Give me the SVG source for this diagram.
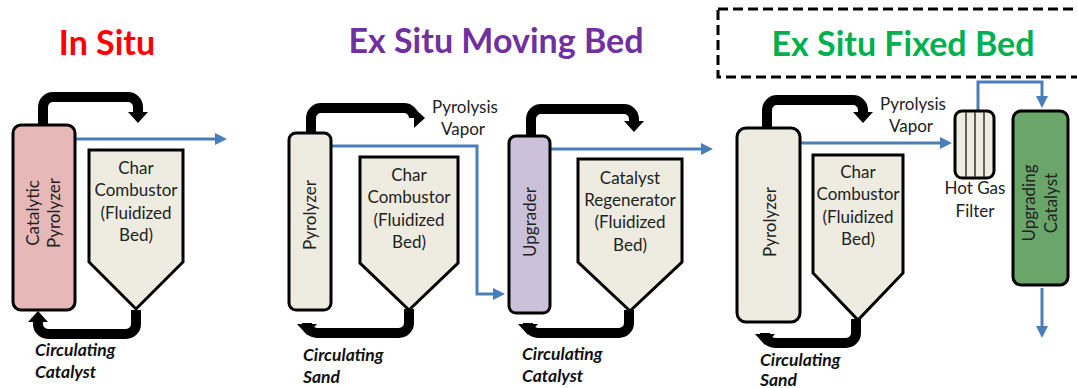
<svg xmlns="http://www.w3.org/2000/svg" width="1077" height="388" viewBox="0 0 1077 388">
  <style>
    .title { font-family: Lato, "Open Sans", sans-serif; font-weight: bold; font-size: 34px; text-anchor: middle; }
    .lbl { font-family: Lato, "Open Sans", sans-serif; font-size: 17px; fill: #222; text-anchor: middle; }
    .circ { font-family: Lato, "Open Sans", sans-serif; font-size: 17.5px; font-weight: bold; font-style: italic; fill: #111; }
    .vessel { stroke: #000; stroke-width: 3; }
    .plain { fill: #eeece1; }
    .solids { fill: none; stroke: #000; stroke-width: 10; }
    .vapor { fill: none; stroke: #4a7ebb; stroke-width: 3; }
    .slat { stroke: #333; stroke-width: 1.5; }
  </style>
  <defs>
    <marker id="headSolid" viewBox="0 0 11 20" refX="0" refY="10" markerWidth="11" markerHeight="20" markerUnits="userSpaceOnUse" orient="auto">
      <path d="M0,0 L11,10 L0,20 Z" fill="#000"/>
    </marker>
    <marker id="headVapor" viewBox="0 0 12 12" refX="0" refY="6" markerWidth="12" markerHeight="12" markerUnits="userSpaceOnUse" orient="auto">
      <path d="M0,0 L12,6 L0,12 Z" fill="#4a7ebb"/>
    </marker>
  </defs>

  <!-- section titles -->
  <text class="title" x="107" y="55" fill="#ff0000">In Situ</text>
  <text class="title" x="496" y="53" fill="#7030a0">Ex Situ Moving Bed</text>
  <rect x="718" y="9" width="380" height="68" fill="none" stroke="#000" stroke-width="3" stroke-dasharray="10 5"/>
  <text class="title" x="903" y="56" fill="#00b050">Ex Situ Fixed Bed</text>

  <!-- connectors -->
  <g id="connectors">
    <!-- in situ loop -->
    <path class="solids" d="M43,124 V107 A10,10 0 0 1 53,97 H128 A10,10 0 0 1 138,107 V112" marker-end="url(#headSolid)"/>
    <path class="solids" d="M136,310 V324 A10,10 0 0 1 126,334 H48 A10,10 0 0 1 38,324 V322" marker-end="url(#headSolid)"/>
    <path class="vapor" d="M75,139 H215" marker-end="url(#headVapor)"/>

    <!-- moving bed: pyrolyzer loop -->
    <path class="solids" d="M311,132 V118 A10,10 0 0 1 321,108 H404 A10,10 0 0 1 414,118 V118" marker-end="url(#headSolid)"/>
    <path class="solids" d="M409,309 V323 A10,10 0 0 1 399,333 H317 A10,10 0 0 1 307,323 V324" marker-end="url(#headSolid)"/>
    <path class="vapor" d="M331,146 H477 V294 H493" marker-end="url(#headVapor)"/>

    <!-- moving bed: upgrader loop -->
    <path class="solids" d="M531,135 V119 A10,10 0 0 1 541,109 H624 A10,10 0 0 1 634,119 V121" marker-end="url(#headSolid)"/>
    <path class="solids" d="M629,310 V323 A10,10 0 0 1 619,333 H538 A10,10 0 0 1 528,323 V324" marker-end="url(#headSolid)"/>
    <path class="vapor" d="M550,149 H701" marker-end="url(#headVapor)"/>

    <!-- fixed bed loop -->
    <path class="solids" d="M767,127 V110 A10,10 0 0 1 777,100 H853 A10,10 0 0 1 863,110 V112" marker-end="url(#headSolid)"/>
    <path class="solids" d="M856,319 V333 A10,10 0 0 1 846,343 H775 A10,10 0 0 1 765,333 V334" marker-end="url(#headSolid)"/>
    <path class="vapor" d="M800,143 H940" marker-end="url(#headVapor)"/>
    <path class="vapor" d="M978,111 V82 H1042 V96" marker-end="url(#headVapor)"/>
    <path class="vapor" d="M1042,288 V326" marker-end="url(#headVapor)"/>
  </g>

  <!-- In Situ -->
  <g id="catalytic-pyrolyzer">
    <rect class="vessel" x="13" y="125" width="62" height="185" rx="8" fill="#e6b9b8"/>
    <text class="lbl" transform="translate(44,213) rotate(-90)"><tspan x="0" y="-5">Catalytic</tspan><tspan x="0" y="16">Pyrolyzer</tspan></text>
  </g>
  <g id="char-combustor-1">
    <path class="vessel plain" d="M89,150 H183 V262 L136,309 L89,262 Z"/>
    <text class="lbl"><tspan x="136" y="174">Char</tspan><tspan x="136" y="196">Combustor</tspan><tspan x="136" y="219">(Fluidized</tspan><tspan x="136" y="241">Bed)</tspan></text>
  </g>
  <text class="circ"><tspan x="35" y="356">Circulating</tspan><tspan x="35" y="378">Catalyst</tspan></text>

  <!-- Ex Situ Moving Bed -->
  <g id="pyrolyzer-2">
    <rect class="vessel plain" x="289" y="133" width="42" height="177" rx="7"/>
    <text class="lbl" transform="translate(310,215) rotate(-90)" y="6">Pyrolyzer</text>
  </g>
  <g id="char-combustor-2">
    <path class="vessel plain" d="M360,157 H458 V263 L409,310 L360,263 Z"/>
    <text class="lbl"><tspan x="409" y="181">Char</tspan><tspan x="409" y="203">Combustor</tspan><tspan x="409" y="226">(Fluidized</tspan><tspan x="409" y="248">Bed)</tspan></text>
  </g>
  <text class="lbl"><tspan x="465" y="113">Pyrolysis</tspan><tspan x="463" y="135">Vapor</tspan></text>
  <text class="circ"><tspan x="303" y="361">Circulating</tspan><tspan x="303" y="383">Sand</tspan></text>

  <g id="upgrader">
    <rect class="vessel" x="509" y="136" width="41" height="177" rx="7" fill="#ccc1da"/>
    <text class="lbl" transform="translate(530,222) rotate(-90)" y="6">Upgrader</text>
  </g>
  <g id="catalyst-regenerator">
    <path class="vessel plain" d="M578,159 H682 V262 L630,311 L578,262 Z"/>
    <text class="lbl"><tspan x="630" y="184">Catalyst</tspan><tspan x="630" y="206">Regenerator</tspan><tspan x="630" y="228">(Fluidized</tspan><tspan x="630" y="251">Bed)</tspan></text>
  </g>
  <text class="circ"><tspan x="522" y="360">Circulating</tspan><tspan x="522" y="382">Catalyst</tspan></text>

  <!-- Ex Situ Fixed Bed -->
  <g id="pyrolyzer-3">
    <rect class="vessel plain" x="737" y="128" width="63" height="194" rx="9"/>
    <text class="lbl" transform="translate(770,222) rotate(-90)" y="6">Pyrolyzer</text>
  </g>
  <g id="char-combustor-3">
    <path class="vessel plain" d="M813,155 H903 V273 L858,320 L813,273 Z"/>
    <text class="lbl"><tspan x="858" y="178">Char</tspan><tspan x="858" y="200">Combustor</tspan><tspan x="858" y="223">(Fluidized</tspan><tspan x="858" y="245">Bed)</tspan></text>
  </g>
  <text class="lbl"><tspan x="913" y="110">Pyrolysis</tspan><tspan x="911" y="132">Vapor</tspan></text>
  <text class="circ"><tspan x="760" y="366">Circulating</tspan><tspan x="760" y="386">Sand</tspan></text>

  <g id="hot-gas-filter">
    <rect class="vessel plain" x="955" y="111" width="39" height="67" rx="7"/>
    <line class="slat" x1="966" y1="112" x2="966" y2="177"/>
    <line class="slat" x1="975" y1="112" x2="975" y2="177"/>
    <line class="slat" x1="984" y1="112" x2="984" y2="177"/>
    <text class="lbl"><tspan x="975" y="194">Hot Gas</tspan><tspan x="975" y="217">Filter</tspan></text>
  </g>
  <g id="upgrading-catalyst">
    <rect class="vessel" x="1013" y="111" width="55" height="174" rx="8" fill="#6aa56a"/>
    <text class="lbl" transform="translate(1041,203) rotate(-90)"><tspan x="0" y="-6">Upgrading</tspan><tspan x="0" y="16">Catalyst</tspan></text>
  </g>
</svg>
